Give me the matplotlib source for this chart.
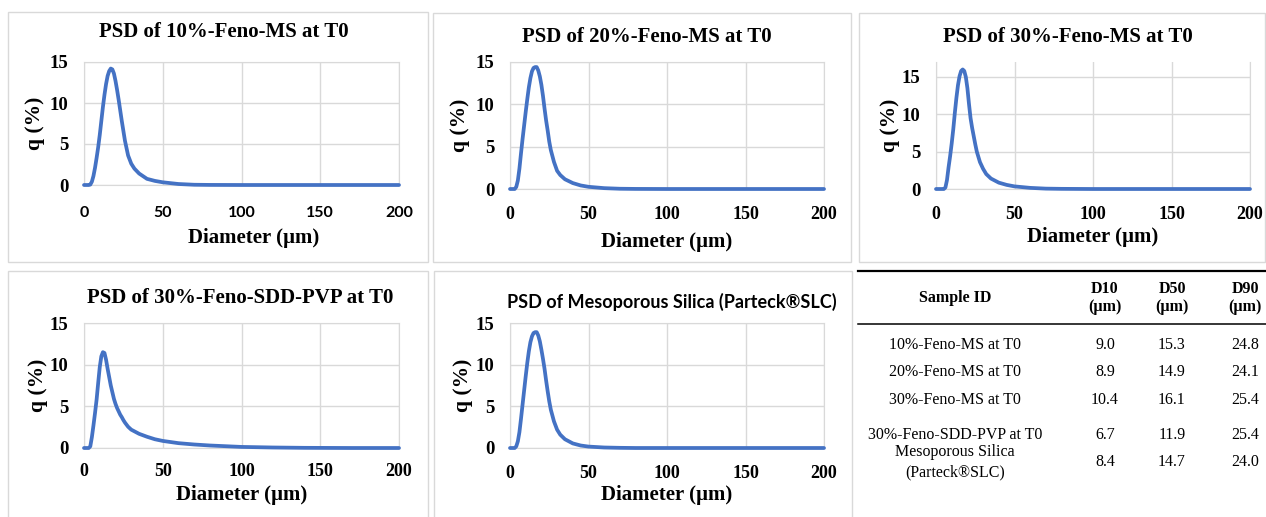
import numpy as np
import matplotlib
matplotlib.use("Agg")
import matplotlib.pyplot as plt
from matplotlib.patches import Rectangle
from matplotlib.lines import Line2D

W, H = 1266, 517

# particle size distributions
diameter = [0, 3, 4, 5, 6, 7, 8, 9, 10, 11, 12, 13, 14, 15, 16, 17, 18, 19, 20, 21,
            22, 23, 24, 25, 26, 28, 30, 32, 35, 40, 45, 50, 60, 70, 80, 100, 120, 140, 170, 200]

q_10ms = [0, 0, 0.05, 0.4, 1.1, 2.1, 3.3, 4.6, 6.1, 7.8, 9.5, 11.0, 12.3, 13.3, 13.9, 14.2, 14.1, 13.6, 12.7, 11.6,
          10.4, 9.1, 7.8, 6.6, 5.4, 3.6, 2.6, 2.0, 1.4, 0.75, 0.5, 0.33, 0.12, 0.03, 0.01, 0, 0, 0, 0, 0]
q_20ms = [0, 0, 0.25, 1.0, 2.4, 4.2, 5.9, 7.5, 9.1, 10.6, 12.0, 13.1, 13.9, 14.3, 14.4, 14.4, 14.0, 13.3, 12.3, 11.0,
          9.5, 8.1, 6.9, 5.6, 4.6, 3.2, 2.15, 1.65, 1.15, 0.7, 0.42, 0.26, 0.1, 0.03, 0.01, 0, 0, 0, 0, 0]
q_30ms = [0, 0, 0, 0, 0.2, 1.2, 2.9, 4.4, 6.1, 8.0, 10.2, 12.2, 13.9, 15.1, 15.8, 16.0, 15.8, 15.0, 13.5, 11.4,
          9.5, 8.2, 7.1, 6.0, 5.0, 3.6, 2.7, 2.0, 1.4, 0.85, 0.55, 0.35, 0.15, 0.05, 0.02, 0, 0, 0, 0, 0]
q_30sdd = [0, 0, 0.2, 1.3, 2.7, 4.2, 5.8, 7.8, 9.7, 11.0, 11.5, 11.4, 10.6, 9.5, 8.5, 7.5, 6.7, 5.9, 5.3, 4.8,
           4.4, 4.0, 3.7, 3.35, 3.05, 2.55, 2.2, 2.0, 1.7, 1.35, 1.05, 0.85, 0.58, 0.42, 0.3, 0.13, 0.06, 0.02, 0, 0]
q_silica = [0, 0, 0.2, 0.8, 1.9, 3.5, 5.2, 6.9, 8.6, 10.2, 11.6, 12.7, 13.4, 13.8, 13.9, 13.9, 13.5, 12.8, 11.8, 10.7,
            9.5, 8.1, 6.8, 5.6, 4.6, 3.2, 2.2, 1.6, 1.05, 0.55, 0.3, 0.17, 0.06, 0.02, 0, 0, 0, 0, 0, 0]

titles = ["PSD of 10%-Feno-MS at T0", "PSD of 20%-Feno-MS at T0", "PSD of 30%-Feno-MS at T0",
          "PSD of 30%-Feno-SDD-PVP at T0", "PSD of Mesoporous Silica (Parteck\u00aeSLC)"]
series = [q_10ms, q_20ms, q_30ms, q_30sdd, q_silica]
ymax = [15, 15, 17, 15, 15]

sample_ids = ["10%-Feno-MS at T0", "20%-Feno-MS at T0", "30%-Feno-MS at T0",
              "30%-Feno-SDD-PVP at T0", "Mesoporous Silica\n(Parteck\u00aeSLC)"]
d10 = ["9.0", "8.9", "10.4", "6.7", "8.4"]
d50 = ["15.3", "14.9", "16.1", "11.9", "14.7"]
d90 = ["24.8", "24.1", "25.4", "25.4", "24.0"]

# layout in pixels: axes box (l, t, r, b), panel border, title centre, label offsets
axes_px = [(84, 62, 399, 185), (510, 62, 824, 189), (936, 62, 1250, 189),
           (84, 323, 399, 448), (510, 323, 824, 448)]
border_px = [(8, 12, 428, 262), (433, 13, 851, 262), (859, 13, 1265, 262),
             (8, 271, 428, 520), (434, 271, 852, 520)]
title_px = [(224, 32), (647, 37), (1068, 37), (240, 298), (672, 302)]
ylab_x = [-0.156, -0.16, -0.146, -0.146, -0.15]
xlab = [(0.537, -0.43), (0.5, -0.417), (0.5, -0.38), (0.5, -0.376), (0.5, -0.376)]
xpad = [15, 12, 12, 11, 12]

serif = "Liberation Serif"
sans = "Lato"
blue = "#4472C4"
grid = "#d9d9d9"

fig = plt.figure(figsize=(W / 100, H / 100), dpi=100)


def fx(x):
    return x / W


def fy(y):
    return 1 - y / H


for i in range(5):
    l, t, r, b = border_px[i]
    fig.patches.append(Rectangle((fx(l), fy(b)), (r - l) / W, (b - t) / H, transform=fig.transFigure,
                                 fill=False, edgecolor="#d9d9d9", lw=1.0, zorder=0))

    l, t, r, b = axes_px[i]
    ax = fig.add_axes([fx(l), fy(b), (r - l) / W, (b - t) / H])
    ax.plot(diameter, series[i], color=blue, lw=2.7, solid_joinstyle="round", solid_capstyle="round",
            clip_on=False, zorder=3)
    ax.set_xlim(0, 200)
    ax.set_ylim(0, ymax[i])
    ax.set_xticks([0, 50, 100, 150, 200])
    ax.set_yticks([0, 5, 10, 15])
    ax.grid(True, color=grid, lw=1.0)
    ax.set_axisbelow(True)
    for s in ax.spines.values():
        s.set_color(grid)
    if i == 2:
        ax.spines["top"].set_visible(False)
    ax.tick_params(axis="x", length=0, pad=xpad[i])
    ax.tick_params(axis="y", length=0, pad=11)
    for lab in ax.get_yticklabels():
        lab.set_fontfamily(serif)
        lab.set_fontweight("bold")
        lab.set_fontsize(13.5)
    for lab in ax.get_xticklabels():
        if i == 0:
            lab.set_fontfamily(sans)
            lab.set_fontsize(11.5)
        else:
            lab.set_fontfamily(serif)
            lab.set_fontsize(13)
        lab.set_fontweight("bold")
    ax.set_ylabel("q (%)", fontfamily=serif, fontweight="bold", fontsize=15.5)
    ax.yaxis.label.set_va("center")
    ax.yaxis.set_label_coords(ylab_x[i], 0.5)
    ax.set_xlabel("Diameter (\u00b5m)", fontfamily=serif, fontweight="bold", fontsize=15)
    ax.xaxis.label.set_va("center")
    ax.xaxis.set_label_coords(xlab[i][0], xlab[i][1])

    tx, ty = title_px[i]
    fam = sans if i == 4 else serif
    fig.text(fx(tx), fy(ty), titles[i], ha="center", va="center", fontfamily=fam,
             fontweight="bold", fontsize=13 if i == 4 else 15)

# table at bottom right
fig.add_artist(Line2D([fx(858), fx(1266)], [fy(271), fy(271)], color="black", lw=1.6))
fig.add_artist(Line2D([fx(858), fx(1266)], [fy(324), fy(324)], color="black", lw=1.1))

col_x = [955, 1105, 1172, 1245]
hdr = ["Sample ID", "D10\n(\u00b5m)", "D50\n(\u00b5m)", "D90\n(\u00b5m)"]
for cx, h in zip(col_x, hdr):
    fig.text(fx(cx), fy(298), h, ha="center", va="center", fontfamily=serif, fontweight="bold",
             fontsize=11.5, linespacing=1.2)

row_y = [345, 372, 400, 435, 462]
for j in range(5):
    cells = [sample_ids[j], d10[j], d50[j], d90[j]]
    for cx, c in zip(col_x, cells):
        fig.text(fx(cx), fy(row_y[j]), c, ha="center", va="center", fontfamily=serif,
                 fontsize=11.5, linespacing=1.4)

fig.savefig("out.png", dpi=100)
